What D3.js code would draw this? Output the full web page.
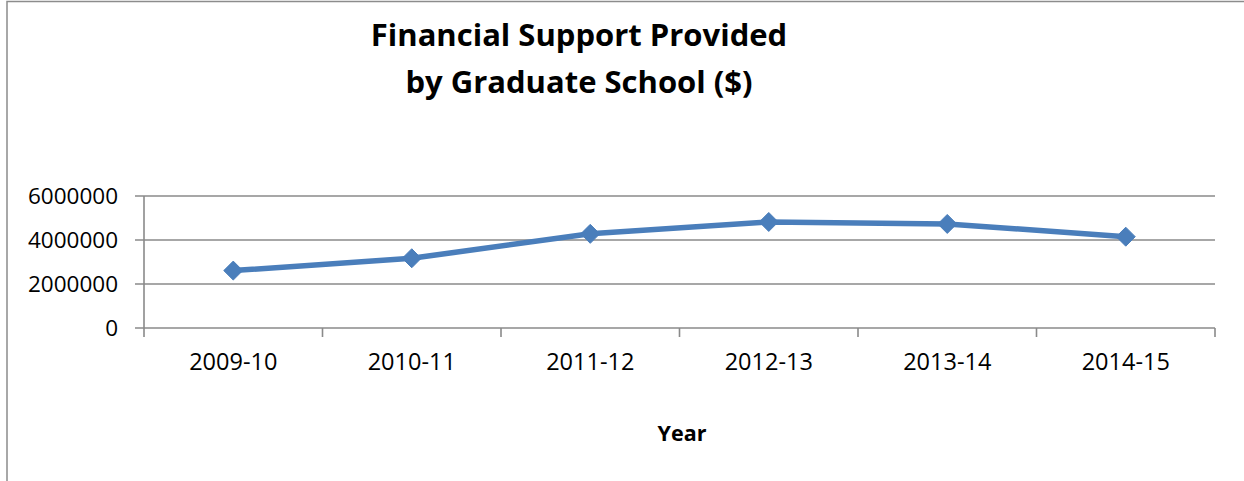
<!DOCTYPE html>
<html><head><meta charset="utf-8">
<script src="https://cdn.jsdelivr.net/npm/d3@7"></script>
<style>body{margin:0;background:#fff}svg{display:block}text{font-family:"Open Sans",Calibri,sans-serif}</style>
</head><body><svg id="c" width="1244" height="481"></svg>
<script>
const categories = ["2009-10","2010-11","2011-12","2012-13","2013-14","2014-15"];
const values = [2610000, 3170000, 4280000, 4820000, 4730000, 4150000];
const yTicks = [0, 2000000, 4000000, 6000000];
const titleLines = ["Financial Support Provided", "by Graduate School ($)"];
const xTitle = "Year";

const svg = d3.select("#c");
const W = 1244, H = 481;
const m = {left:144, right:1215, top:196, bottom:328};

svg.append("rect").attr("x",7).attr("y",1.5).attr("width",W).attr("height",H)
  .attr("fill","#fff").attr("stroke","#8c8c8c").attr("stroke-width",1.5);

const x = d3.scaleBand().domain(categories).range([m.left, m.right]);
const y = d3.scaleLinear().domain([0, 6000000]).range([m.bottom, m.top]);

// gridlines
svg.append("g").selectAll("line").data(yTicks).join("line")
  .attr("x1", m.left-9).attr("x2", m.right)
  .attr("y1", d=>y(d)).attr("y2", d=>y(d))
  .attr("stroke","#8a8a8a").attr("stroke-width",1.6);

// y axis line
svg.append("line").attr("x1",m.left).attr("x2",m.left).attr("y1",m.top).attr("y2",m.bottom)
  .attr("stroke","#8a8a8a").attr("stroke-width",1.6);

// x ticks at band boundaries
const bounds = categories.map(c=>x(c)).concat([m.right]);
svg.append("g").selectAll("line").data(bounds).join("line")
  .attr("x1",d=>d).attr("x2",d=>d).attr("y1",m.bottom).attr("y2",m.bottom+9)
  .attr("stroke","#8a8a8a").attr("stroke-width",1.6);

// y labels
svg.append("g").selectAll("text").data(yTicks).join("text")
  .attr("x",118).attr("y",d=>y(d)).attr("dy","0.36em").attr("text-anchor","end")
  .attr("font-size",22.5).attr("fill","#000").text(d=>d3.format("d")(d));

// x labels
svg.append("g").selectAll("text").data(categories).join("text")
  .attr("x",d=>x(d)+x.bandwidth()/2).attr("y",362).attr("dy","0.36em").attr("text-anchor","middle")
  .attr("font-size",23.5).attr("fill","#000").text(d=>d);

// line
const pts = categories.map((c,i)=>[x(c)+x.bandwidth()/2, y(values[i])]);
svg.append("path").attr("d", d3.line()(pts)).attr("fill","none")
  .attr("stroke","#4a7ebb").attr("stroke-width",5.5).attr("stroke-linejoin","round");

svg.append("g").selectAll("path").data(pts).join("path")
  .attr("transform",d=>`translate(${d[0]},${d[1]})`)
  .attr("d", d3.symbol().type(d3.symbolDiamond2).size(230)())
  .attr("fill","#4a7ebb").attr("stroke","#4a7ebb").attr("stroke-width",1);

// title
svg.append("g").selectAll("text").data(titleLines).join("text")
  .attr("x",579).attr("y",(d,i)=>35+i*47).attr("dy","0.36em").attr("text-anchor","middle")
  .attr("font-size",31).attr("font-weight","bold").attr("fill","#000").text(d=>d);

svg.append("text").attr("x",682).attr("y",433).attr("dy","0.36em").attr("text-anchor","middle")
  .attr("font-size",21.5).attr("font-weight","bold").attr("fill","#000").text(xTitle);
</script></body></html>
